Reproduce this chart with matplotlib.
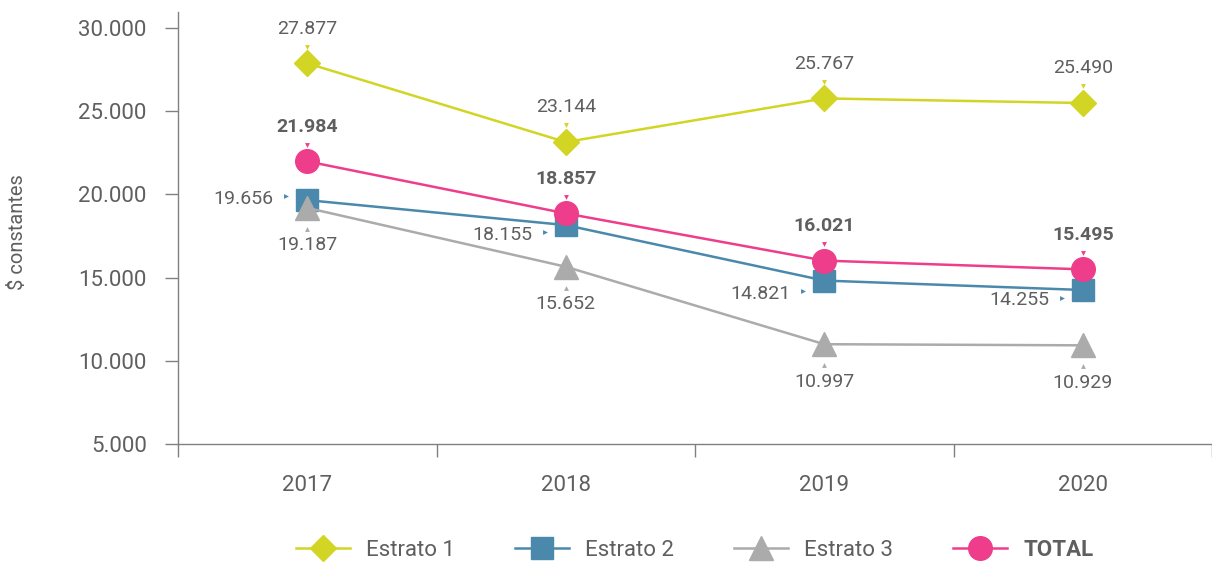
import matplotlib.pyplot as plt
from matplotlib.transforms import offset_copy
from matplotlib.ticker import FuncFormatter

plt.rcParams['font.family'] = ['Roboto', 'DejaVu Sans']

# data
years = ['2017', '2018', '2019', '2020']
estrato1 = [27877, 23144, 25767, 25490]
estrato2 = [19656, 18155, 14821, 14255]
estrato3 = [19187, 15652, 10997, 10929]
total = [21984, 18857, 16021, 15495]

# vertical nudges (points) for the left-side labels of Estrato 2
nudge2 = [2, -6, -8.5, -6.5]

c1 = '#D3D524'
c2 = '#4B89AC'
c3 = '#ABABAB'
ct = '#EE3D8B'
txt = '#5f5f5f'

x = list(range(len(years)))

fig = plt.figure(figsize=(12.12, 5.63), dpi=100)
ax = fig.add_axes([178 / 1212, 1 - 444 / 563, 1 - 178 / 1212, (444 - 12) / 563])

ax.plot(x, estrato1, color=c1, lw=1.8, marker='D', ms=13, label='Estrato 1', zorder=3)
ax.plot(x, estrato2, color=c2, lw=1.8, marker='s', ms=16, label='Estrato 2', zorder=3)
ax.plot(x, estrato3, color=c3, lw=1.8, marker='^', ms=17, label='Estrato 3', zorder=3)
ax.plot(x, total, color=ct, lw=1.8, marker='o', ms=17, label='TOTAL', zorder=4)


def fmt(v):
    return f'{v:,}'.replace(',', '.')


def label(xs, ys, color, where, bold=False, nudge=None):
    for i, (xi, yi) in enumerate(zip(xs, ys)):
        if where == 'above':
            ax.annotate(fmt(yi), (xi, yi), xytext=(0, 25), textcoords='offset points',
                        ha='center', va='center', fontsize=14, color=txt,
                        fontweight='bold' if bold else 'normal')
            tr = offset_copy(ax.transData, fig=fig, x=0, y=12, units='points')
            ax.plot(xi, yi, marker='v', ms=3.5, color=color, mec='none', transform=tr)
        elif where == 'below':
            ax.annotate(fmt(yi), (xi, yi), xytext=(0, -27), textcoords='offset points',
                        ha='center', va='center', fontsize=14, color=txt)
            tr = offset_copy(ax.transData, fig=fig, x=0, y=-15, units='points')
            ax.plot(xi, yi, marker='^', ms=3.5, color=color, mec='none', transform=tr)
        else:
            dy = nudge[i] if nudge else 0
            ax.annotate(fmt(yi), (xi, yi), xytext=(-24, dy - 1), textcoords='offset points',
                        ha='right', va='center', fontsize=14, color=txt)
            tr = offset_copy(ax.transData, fig=fig, x=-15, y=dy + 1, units='points')
            ax.plot(xi, yi, marker='>', ms=3.5, color=color, mec='none', transform=tr)


label(x, estrato1, c1, 'above')
label(x, estrato2, c2, 'left', nudge=nudge2)
label(x, estrato3, c3, 'below')
label(x, total, ct, 'above', bold=True)

ax.set_xlim(-0.5, 3.5)
ax.set_ylim(5000, 30960)
ax.set_yticks([5000, 10000, 15000, 20000, 25000, 30000])
ax.yaxis.set_major_formatter(FuncFormatter(lambda v, p: fmt(int(v))))
ax.set_xticks(x)
ax.set_xticklabels(years)
ax.set_xticks([-0.5, 0.5, 1.5, 2.5, 3.5], minor=True)

for s in ['top', 'right']:
    ax.spines[s].set_visible(False)
for s in ['left', 'bottom']:
    ax.spines[s].set_color('#808080')
    ax.spines[s].set_linewidth(1.0)

ax.tick_params(axis='y', length=9.5, width=1, color='#808080', pad=13, labelsize=16, labelcolor=txt)
ax.tick_params(axis='x', which='major', length=0, pad=22, labelsize=16, labelcolor=txt)
ax.tick_params(axis='x', which='minor', length=9, width=1, color='#808080')

fig.text(18 / 1212, 1 - 232 / 563, r'\$ constantes', rotation=90, ha='center', va='center',
         fontsize=14.5, color=txt)

leg = ax.legend(loc='center', bbox_to_anchor=(0.5, -(550 - 444) / 432), ncol=4, frameon=False,
                fontsize=16, handlelength=2.4, columnspacing=2.7, handletextpad=0.75)
for t in leg.get_texts():
    t.set_color(txt)
leg.get_texts()[3].set_fontweight('bold')

fig.savefig('out.png', dpi=100)
